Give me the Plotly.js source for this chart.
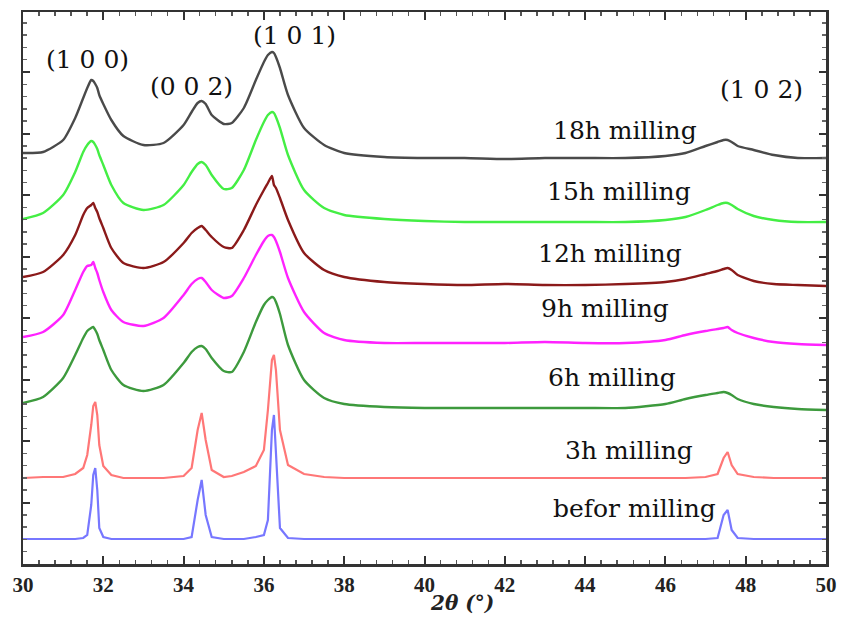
<!DOCTYPE html>
<html>
<head>
<meta charset="utf-8">
<script src="https://cdn.plot.ly/plotly-3.0.1.min.js"></script>
<style>html,body{margin:0;padding:0;background:#fff;}#chart{width:841px;height:637px;}</style>
</head>
<body>
<div id="chart"></div>
<script>
// 2-theta positions (degrees)
const twoTheta = [30, 30.5, 31, 31.3, 31.5, 31.6, 31.7, 31.75, 31.8, 31.85, 31.9, 32.0, 32.2, 32.5, 33, 33.5, 34, 34.2, 34.35, 34.45, 34.55, 34.7, 35.0, 35.2, 35.5, 35.8, 36.0, 36.1, 36.2, 36.25, 36.3, 36.4, 36.6, 37, 37.5, 38, 39, 40, 41, 42, 43, 44, 45, 46, 46.5, 47, 47.3, 47.45, 47.55, 47.65, 47.8, 48.2, 48.7, 49.3, 50];

// Stacked (offset) intensities, arbitrary units
const mill18h = [411, 412, 424, 446, 466, 476, 484, 483, 480, 476, 469, 460, 444, 428, 419, 421, 439, 452, 461, 463, 460, 449, 440, 441, 456, 484, 502, 509, 512, 511, 507, 496, 469, 436, 419, 411, 407, 406, 406, 405, 406, 406, 406, 408, 411, 418, 422, 424, 424, 422, 418, 414, 409, 406, 406];
const mill15h = [345, 351, 369, 392, 412, 419, 423, 422, 419, 415, 409, 399, 379, 361, 354, 359, 379, 392, 400, 402, 399, 389, 375, 376, 394, 424, 442, 449, 452, 451, 447, 436, 409, 374, 356, 349, 345, 343, 342, 342, 342, 342, 342, 344, 347, 354, 359, 361, 361, 359, 355, 348, 344, 342, 342];
const mill12h = [287, 292, 309, 329, 349, 356, 359, 361, 356, 352, 346, 336, 316, 301, 296, 302, 321, 331, 336, 338, 334, 327, 317, 316, 334, 359, 374, 381, 388, 379, 376, 366, 344, 311, 294, 287, 282, 280, 279, 280, 279, 279, 280, 282, 285, 290, 293, 295, 296, 294, 289, 283, 280, 279, 278];
const mill9h = [227, 232, 249, 274, 292, 298, 299, 302, 296, 291, 284, 272, 254, 242, 238, 246, 269, 280, 285, 286, 282, 274, 266, 268, 286, 309, 323, 328, 329, 327, 323, 312, 286, 252, 231, 224, 221, 221, 221, 221, 222, 221, 221, 224, 229, 233, 235, 236, 237, 234, 231, 226, 222, 220, 219];
const mill6h = [161, 167, 186, 209, 226, 233, 236, 237, 234, 230, 224, 214, 194, 179, 173, 179, 201, 212, 217, 218, 215, 206, 193, 192, 212, 242, 259, 264, 267, 266, 262, 250, 219, 184, 166, 160, 157, 156, 156, 156, 156, 156, 156, 160, 165, 169, 171, 172, 171, 169, 165, 160, 157, 155, 154];
const mill3h = [86, 87, 87, 90, 96, 109, 139, 158, 162, 149, 119, 98, 89, 86, 86, 86, 88, 96, 134, 151, 124, 94, 87, 88, 92, 98, 114, 154, 204, 209, 194, 134, 99, 90, 87, 86, 86, 86, 86, 86, 86, 86, 86, 86, 86, 87, 90, 106, 112, 99, 90, 87, 86, 86, 86];
const millBefore = [25, 25, 25, 25, 26, 29, 59, 89, 96, 74, 36, 27, 25, 25, 25, 25, 25, 27, 64, 84, 49, 27, 25, 25, 25, 27, 29, 44, 134, 149, 114, 36, 26, 25, 25, 25, 25, 25, 25, 25, 25, 25, 25, 25, 25, 25, 26, 49, 54, 34, 26, 25, 25, 25, 25];

const seriesNames = ['18h milling', '15h milling', '12h milling', '9h milling', '6h milling', '3h milling', 'befor milling'];
const seriesData = [mill18h, mill15h, mill12h, mill9h, mill6h, mill3h, millBefore];
const seriesColors = ['#4a4a4a', '#44ee44', '#8b1a1a', '#ff22ff', '#3d9a3d', '#ff7777', '#7777ff'];
const seriesSharp = [false, false, false, false, false, true, true];

// label anchor positions (x in degrees, y in intensity units)
const seriesLabelX = [44.99, 44.84, 44.62, 44.50, 44.67, 45.09, 45.22];
const seriesLabelY = [434, 373, 311, 256, 187, 114, 56];

const planeLabels = ['(1 0 0)', '(0 0 2)', '(1 0 1)', '(1 0 2)'];
const planeX = [31.6, 34.2, 36.75, 48.4];
const planeY = [505, 478, 529, 475];

const traces = seriesData.map((d, i) => ({
  x: twoTheta, y: d, type: 'scatter', mode: 'lines', name: seriesNames[i],
  line: seriesSharp[i] ? {color: seriesColors[i], width: 2.2}
                       : {color: seriesColors[i], width: 2.4, shape: 'spline', smoothing: 0.6},
  hoverinfo: 'x+y+name'
}));

const serif = 'DejaVu Serif, serif';
const annotations = [];
seriesNames.forEach((n, i) => annotations.push({
  x: seriesLabelX[i], y: seriesLabelY[i], xref: 'x', yref: 'y', text: n, showarrow: false,
  font: {family: serif, size: 25, color: '#111'}
}));
planeLabels.forEach((n, i) => annotations.push({
  x: planeX[i], y: planeY[i], xref: 'x', yref: 'y', text: n, showarrow: false,
  font: {family: serif, size: 25, color: '#111'}
}));
const plotW = 841 - 23 - 15, plotH = 637 - 12 - 73;
annotations.push({
  x: (462 - 23) / plotW, y: -(617 - 564) / plotH, xref: 'paper', yref: 'paper',
  text: '<b><i>2θ (°)</i></b>', showarrow: false,
  font: {family: serif, size: 20, color: '#222'}
});

const layout = {
  width: 841, height: 637,
  margin: {l: 23, r: 15, t: 12, b: 73},
  paper_bgcolor: '#fff', plot_bgcolor: '#fff',
  showlegend: false,
  xaxis: {
    range: [30, 50], dtick: 2, tick0: 30, ticks: 'inside', ticklen: 8, tickwidth: 2, tickcolor: '#333',
    mirror: 'allticks', showline: true, linewidth: 2.5, linecolor: '#333', showgrid: false, zeroline: false,
    tickfont: {family: 'Liberation Serif, serif', size: 21, color: '#222', weight: 'bold'},
    minor: {dtick: 0.4, ticks: 'inside', ticklen: 4, tickwidth: 1.5, tickcolor: '#555', showgrid: false}
  },
  yaxis: {
    range: [0, 552], dtick: 61.5, tick0: 0, ticks: 'inside', ticklen: 7, tickwidth: 2, tickcolor: '#333',
    mirror: 'allticks', showline: true, linewidth: 2.5, linecolor: '#333', showgrid: false, zeroline: false,
    showticklabels: false,
    minor: {dtick: 12.3, ticks: 'inside', ticklen: 4, tickwidth: 1.5, tickcolor: '#666', showgrid: false}
  },
  annotations: annotations
};

Plotly.newPlot('chart', traces, layout, {displayModeBar: false, staticPlot: true});
</script>
</body>
</html>
